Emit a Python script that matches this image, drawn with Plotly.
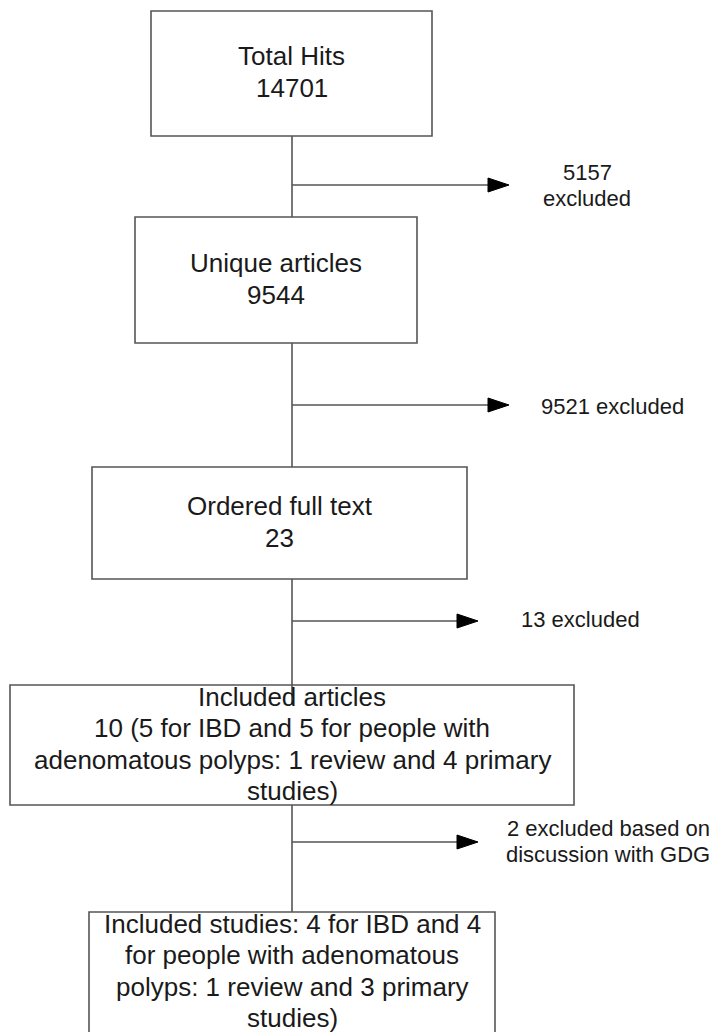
import plotly.graph_objects as go

# ---- data ----
stage_names = ["Total Hits", "Unique articles", "Ordered full text", "Included articles", "Included studies"]
stage_counts = [14701, 9544, 23, 10, 8]
ibd_counts = [5, 4]
polyp_counts = [5, 4]
review_counts = [1, 1]
primary_counts = [4, 3]
excluded_counts = [5157, 9521, 13, 2]

# ---- text lines built from the data ----
box_lines = [
    [stage_names[0], f"{stage_counts[0]}"],
    [stage_names[1], f"{stage_counts[1]}"],
    [stage_names[2], f"{stage_counts[2]}"],
    [stage_names[3],
     f"{stage_counts[3]} ({ibd_counts[0]} for IBD and {polyp_counts[0]} for people with",
     f"adenomatous polyps: {review_counts[0]} review and {primary_counts[0]} primary",
     "studies)"],
    [f"{stage_names[4]}: {ibd_counts[1]} for IBD and {polyp_counts[1]}",
     "for people with adenomatous",
     f"polyps: {review_counts[1]} review and {primary_counts[1]} primary",
     "studies)"],
]
excl_lines = [
    [f"{excluded_counts[0]}", "excluded"],
    [f"{excluded_counts[1]} excluded"],
    [f"{excluded_counts[2]} excluded"],
    [f"{excluded_counts[3]} excluded based on", "discussion with GDG"],
]

# ---- layout geometry (pixels, y downward) ----
W, H = 712, 1032
boxes = [  # x0, x1, y0, y1, text centre y
    (151, 432, 11, 136, 72),
    (135, 417, 217, 343, 279),
    (92, 467, 467, 579, 522),
    (10, 574, 685, 805, 744),
    (89, 495, 912, 1045, 971),
]
spine_x = 292
spine_segments = [(136, 217), (343, 467), (579, 705), (805, 912)]
arrows = [  # y, tip x
    (185, 509),
    (405, 509),
    (621, 478),
    (842, 478),
]
excl_pos = [  # centre x, centre y
    (587, 185),
    (612, 406),
    (580, 619),
    (608, 841),
]
BIG, SMALL = 26, 22
BIG_GAP, SMALL_GAP = 31.5, 26
FONT = "Liberation Sans, Arial, sans-serif"
LINE_COL = "#555555"
TEXT_COL = "#1a1a1a"

fig = go.Figure()
shapes = []
annotations = []

for (x0, x1, y0, y1, ty), lines in zip(boxes, box_lines):
    shapes.append(dict(type="rect", xref="x", yref="y", x0=x0, x1=x1, y0=y0, y1=y1,
                       line=dict(color=LINE_COL, width=1.6), fillcolor="rgba(0,0,0,0)", layer="above"))
    n = len(lines)
    for i, t in enumerate(lines):
        yy = ty + (i - (n - 1) / 2) * BIG_GAP
        annotations.append(dict(x=(x0 + x1) / 2, y=yy, xref="x", yref="y", text=t, showarrow=False,
                                xanchor="center", yanchor="middle",
                                font=dict(family=FONT, size=BIG, color=TEXT_COL)))

for y0, y1 in spine_segments:
    shapes.append(dict(type="line", xref="x", yref="y", x0=spine_x, x1=spine_x, y0=y0, y1=y1,
                       line=dict(color=LINE_COL, width=1.6), layer="above"))

for ay, tip in arrows:
    shapes.append(dict(type="line", xref="x", yref="y", x0=spine_x, x1=tip - 18, y0=ay, y1=ay,
                       line=dict(color=LINE_COL, width=1.6)))
    shapes.append(dict(type="path", xref="x", yref="y",
                       path=f"M {tip-21} {ay-7} L {tip} {ay} L {tip-21} {ay+7} Z",
                       fillcolor="black", line=dict(color="black", width=1)))

for (cx, cy), lines in zip(excl_pos, excl_lines):
    n = len(lines)
    for i, t in enumerate(lines):
        yy = cy + (i - (n - 1) / 2) * SMALL_GAP
        annotations.append(dict(x=cx, y=yy, xref="x", yref="y", text=t, showarrow=False,
                                xanchor="center", yanchor="middle",
                                font=dict(family=FONT, size=SMALL, color=TEXT_COL)))

fig.update_layout(
    width=W, height=H,
    margin=dict(l=0, r=0, t=0, b=0),
    paper_bgcolor="white", plot_bgcolor="white",
    xaxis=dict(range=[0, W], visible=False, fixedrange=True),
    yaxis=dict(range=[H, 0], visible=False, fixedrange=True),
    shapes=shapes, annotations=annotations, showlegend=False,
)

fig.write_html("out.html", config={"displayModeBar": False},
               post_script="document.body.style.margin='0';document.body.style.overflow='hidden';")
